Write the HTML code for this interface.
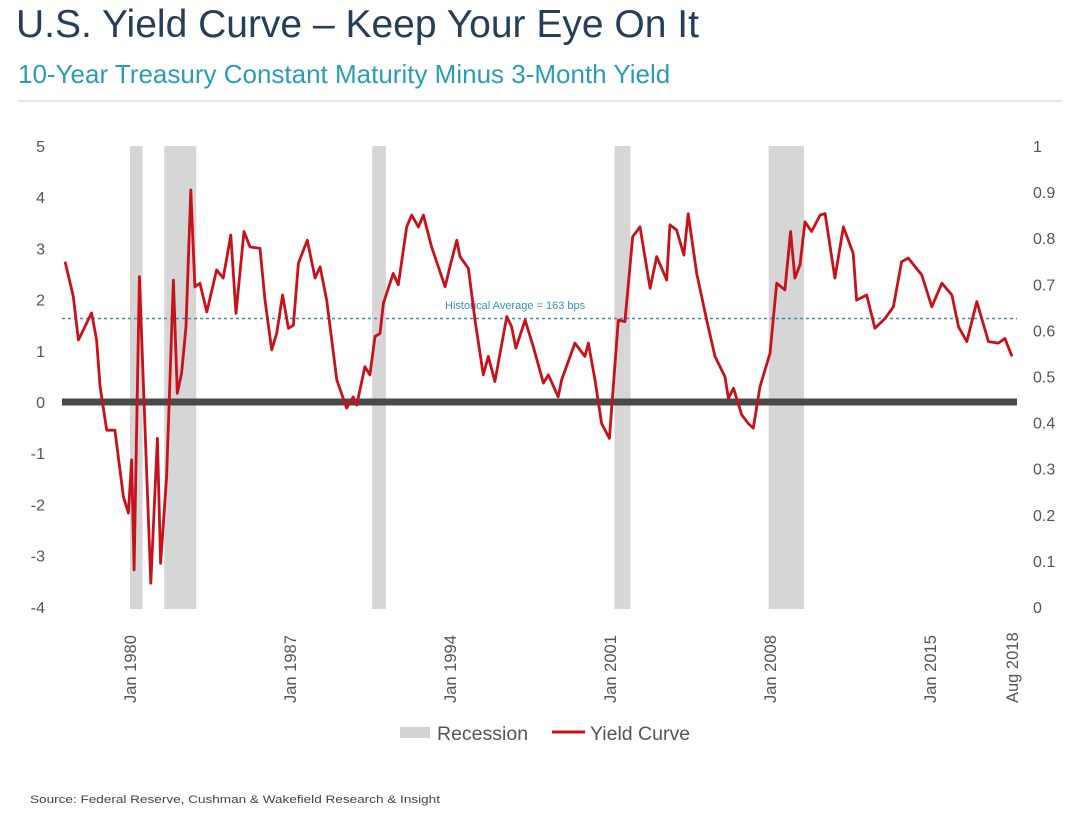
<!DOCTYPE html>
<html><head><meta charset="utf-8"><style>
body{margin:0;background:#fff;width:1080px;height:811px;overflow:hidden;font-family:"Liberation Sans",sans-serif}
</style></head><body>
<svg width="1080" height="811" xmlns="http://www.w3.org/2000/svg" font-family="Liberation Sans, sans-serif">
<text x="16" y="37" font-size="39" fill="#263e58">U.S. Yield Curve – Keep Your Eye On It</text>
<text x="18" y="83" font-size="26" fill="#2b9cb8">10-Year Treasury Constant Maturity Minus 3-Month Yield</text>
<line x1="18" y1="101" x2="1062" y2="101" stroke="#dde2e6" stroke-width="1.5"/>
<g id="rec"></g>
<line x1="62" x2="1017" y1="318.5" y2="318.5" stroke="#3d8fb5" stroke-width="1.5" stroke-dasharray="3,3"/>
<text x="445" y="309" font-size="11" fill="#3d8fb5">Historical Average = 163 bps</text>
<line x1="62" x2="1017" y1="402" y2="402" stroke="#4a4a4a" stroke-width="7"/>
<g id="yl"></g>
<g id="yr"></g>
<g id="xl"></g>
<path id="line" fill="none" stroke="#c8121b" stroke-width="2.8" stroke-linejoin="round"/>
<g>
<rect x="400" y="727" width="30" height="11" fill="#d3d3d3"/>
<text x="437" y="740" font-size="19.5" fill="#555">Recession</text>
<line x1="552" x2="585" y1="732" y2="732" stroke="#c8121b" stroke-width="3"/>
<text x="590" y="740" font-size="19.5" fill="#555">Yield Curve</text>
</g>
<text x="30" y="803" font-size="11" fill="#444" textLength="410" lengthAdjust="spacingAndGlyphs">Source:  Federal Reserve, Cushman &amp; Wakefield Research &amp; Insight</text>
</svg>
<script>
const years=[1977.16,1977.52,1977.74,1977.96,1978.32,1978.54,1978.69,1978.98,1979.34,1979.71,1979.93,1980.07,1980.18,1980.41,1980.73,1980.91,1981.2,1981.34,1981.6,1981.9,1982.07,1982.26,1982.45,1982.66,1982.84,1983.06,1983.36,1983.79,1984.08,1984.41,1984.64,1984.99,1985.25,1985.69,1985.91,1986.2,1986.42,1986.68,1986.93,1987.15,1987.37,1987.76,1988.1,1988.32,1988.61,1989.05,1989.48,1989.77,1989.92,1990.28,1990.5,1990.72,1990.94,1991.09,1991.52,1991.74,1992.11,1992.33,1992.62,1992.84,1993.2,1993.79,1994.0,1994.3,1994.44,1994.81,1995.1,1995.46,1995.68,1995.97,1996.49,1996.7,1996.89,1997.29,1997.65,1998.09,1998.31,1998.74,1998.89,1999.47,1999.91,2000.06,2000.35,2000.64,2000.98,2001.37,2001.66,2002.0,2002.32,2002.76,2003.05,2003.49,2003.63,2003.92,2004.24,2004.43,2004.8,2005.24,2005.6,2006.04,2006.19,2006.41,2006.77,2007.06,2007.28,2007.57,2008.01,2008.3,2008.66,2008.91,2009.1,2009.32,2009.54,2009.83,2010.2,2010.42,2010.85,2011.22,2011.65,2011.8,2012.24,2012.6,2013.04,2013.41,2013.77,2014.06,2014.65,2015.09,2015.53,2015.97,2016.26,2016.62,2017.06,2017.57,2018.0,2018.29,2018.6];
const spread=[2.74,2.06,1.21,1.41,1.74,1.21,0.30,-0.55,-0.55,-1.85,-2.17,-1.13,-3.28,2.45,-1.39,-3.54,-0.71,-3.15,-1.46,2.38,0.17,0.56,1.47,4.14,2.25,2.32,1.76,2.58,2.42,3.26,1.73,3.33,3.03,3.0,1.99,1.02,1.34,2.09,1.44,1.50,2.71,3.16,2.42,2.64,1.99,0.43,-0.12,0.10,-0.06,0.69,0.53,1.28,1.34,1.93,2.51,2.29,3.42,3.65,3.42,3.65,3.03,2.25,2.64,3.16,2.84,2.61,1.60,0.53,0.89,0.40,1.67,1.47,1.05,1.60,1.08,0.37,0.53,0.10,0.43,1.15,0.89,1.15,0.43,-0.42,-0.71,1.60,1.57,3.23,3.42,2.22,2.84,2.38,3.46,3.36,2.87,3.68,2.51,1.60,0.89,0.49,0.07,0.27,-0.25,-0.42,-0.51,0.30,0.95,2.32,2.19,3.33,2.42,2.68,3.52,3.33,3.65,3.68,2.42,3.42,2.90,1.99,2.09,1.44,1.63,1.86,2.74,2.81,2.48,1.86,2.32,2.09,1.47,1.18,1.96,1.18,1.15,1.24,0.89];
const recStart=[1980.0,1981.5,1990.6,2001.2,2007.95];
const recEnd=[1980.55,1982.9,1991.2,2001.9,2009.5];
const leftTicks=[5,4,3,2,1,0,-1,-2,-3,-4];
const rightTicks=["1","0.9","0.8","0.7","0.6","0.5","0.4","0.3","0.2","0.1","0"];
const xTickYears=[1980,1987,1994,2001,2008,2015,2018.6];
const xTickLabels=["Jan 1980","Jan 1987","Jan 1994","Jan 2001","Jan 2008","Jan 2015","Aug 2018"];
const NS="http://www.w3.org/2000/svg";
const X=y=>130+(y-1980)*22.85;
const Y=v=>402-v*51.2;
function mk(t,a,p,txt){const e=document.createElementNS(NS,t);for(const k in a)e.setAttribute(k,a[k]);if(txt!==undefined)e.textContent=txt;p.appendChild(e);return e;}
const rec=document.getElementById('rec');
recStart.forEach((s,i)=>{const r=mk('rect',{x:X(s),y:146,width:X(recEnd[i])-X(s),height:463,fill:'#d6d6d6'},rec);

});
const yl=document.getElementById('yl');
leftTicks.forEach(v=>{const t=mk('text',{x:45,y:Y(v)+6,'font-size':16,fill:'#555','text-anchor':'end'},yl,String(v));

});
const yr=document.getElementById('yr');
rightTicks.forEach((s,i)=>{const t=mk('text',{x:1033,y:146+i*46.1+6,'font-size':16,fill:'#555'},yr,s);

});
const xl=document.getElementById('xl');
xTickYears.forEach((yv,i)=>{const x=X(yv)+6;const t=mk('text',{x:x,y:703,'font-size':16.5,fill:'#555','text-anchor':'start',transform:`rotate(-90 ${x} 703)`},xl,xTickLabels[i]);

});
let d='';years.forEach((yv,i)=>{d+=(i?'L':'M')+X(yv).toFixed(1)+','+Y(spread[i]).toFixed(1);});
document.getElementById('line').setAttribute('d',d);
</script>
</body></html>
